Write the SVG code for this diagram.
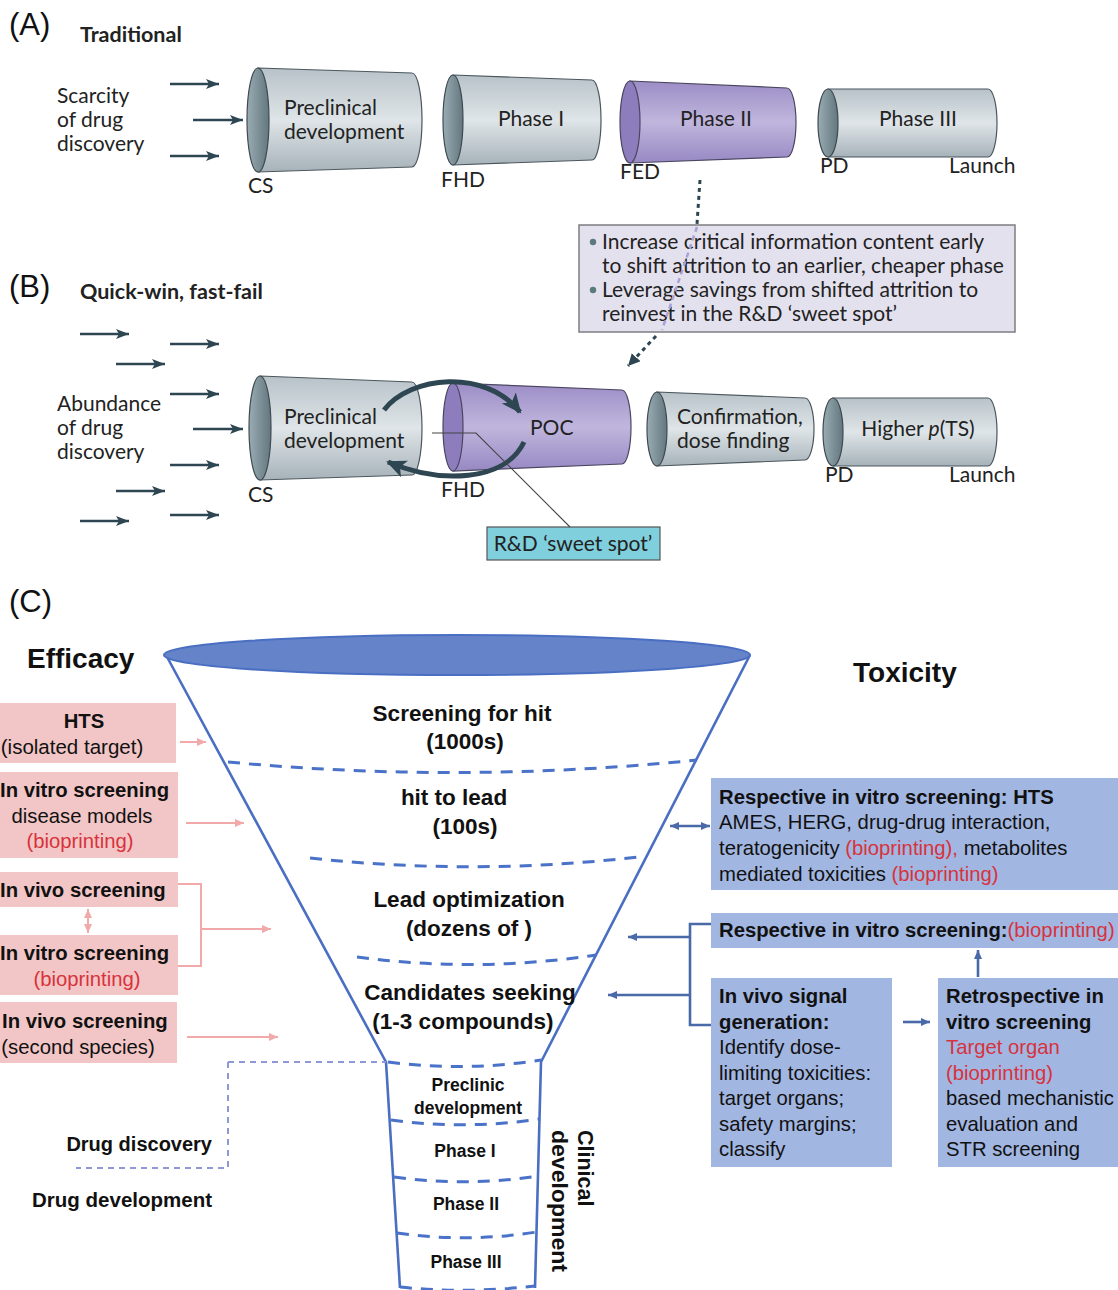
<svg xmlns="http://www.w3.org/2000/svg" width="1118" height="1290" viewBox="0 0 1118 1290">
<defs>
<style>
.hum{font-family:Lato,"Open Sans","Noto Sans",sans-serif;fill:#222;}
.lbl{font-size:31px;font-family:"Liberation Sans",Arial,sans-serif;fill:#111;}
.ttl{font-size:21.5px;font-weight:bold;}
.cyl{font-size:21px;}
.c{font-family:"Liberation Sans",Arial,sans-serif;fill:#111;}
.b{font-weight:bold;}
.red{fill:#d8323c;}
.ft{font-size:22.5px;font-weight:bold;}
.tt{font-size:17.5px;font-weight:bold;}
.tx{font-size:20.3px;}
.ef{font-size:20.3px;}
.gray{fill:url(#gGray);stroke:#4b575d;stroke-width:1.2;}
.grayE{fill:url(#gGrayE);stroke:#3f4a50;stroke-width:1.2;}
.purp{fill:url(#gPurp);stroke:#4b4660;stroke-width:1.2;}
.purpE{fill:#8d7dbd;stroke:#4b4660;stroke-width:1.2;}
.darr{stroke:#2e4652;stroke-width:2.6;fill:none;}
.parr{stroke:#f1a9a9;stroke-width:2;fill:none;}
.barr{stroke:#4a69a8;stroke-width:2.6;fill:none;}
.fun{stroke:#4a6fc2;stroke-width:2.6;fill:none;}
.dash{stroke:#4a72c8;stroke-width:3;fill:none;stroke-dasharray:12 9;}
.pink{fill:#f2c6c6;}
.blue{fill:#a2b6e2;}
</style>
<linearGradient id="gGray" x1="0" y1="0" x2="0" y2="1">
<stop offset="0" stop-color="#b7c2c8"/><stop offset="0.5" stop-color="#dfe5e8"/><stop offset="1" stop-color="#a6b2b9"/>
</linearGradient>
<linearGradient id="gGrayE" x1="0" y1="0" x2="1" y2="0">
<stop offset="0" stop-color="#9aabb3"/><stop offset="1" stop-color="#62777f"/>
</linearGradient>
<linearGradient id="gPurp" x1="0" y1="0" x2="0" y2="1">
<stop offset="0" stop-color="#9c8dc6"/><stop offset="0.5" stop-color="#c0b6dd"/><stop offset="1" stop-color="#9788c3"/>
</linearGradient>
<marker id="mD" markerUnits="userSpaceOnUse" markerWidth="14" markerHeight="12" refX="13" refY="6" orient="auto">
<path d="M0,1 L13,6 L0,11 L3,6 Z" fill="#2e4652"/>
</marker>
<marker id="mC" markerUnits="userSpaceOnUse" markerWidth="22" markerHeight="20" refX="18" refY="10" orient="auto">
<path d="M0,1 L20,10 L0,19 L5,10 Z" fill="#2e4652"/>
</marker>
<marker id="mP" markerUnits="userSpaceOnUse" markerWidth="10" markerHeight="10" refX="9" refY="5" orient="auto-start-reverse">
<path d="M0,1 L9,5 L0,9 Z" fill="#f1a9a9"/>
</marker>
<marker id="mB" markerUnits="userSpaceOnUse" markerWidth="10" markerHeight="10" refX="9" refY="5" orient="auto-start-reverse">
<path d="M0,1 L9,5 L0,9 Z" fill="#4a69a8"/>
</marker>
<marker id="mK" markerUnits="userSpaceOnUse" markerWidth="14" markerHeight="12" refX="12" refY="6" orient="auto">
<path d="M0,0 L12,6 L0,12 Z" fill="#2e4652"/>
</marker>
</defs>
<rect width="1118" height="1290" fill="#ffffff"/>

<!-- Panel A -->
<text class="lbl" x="9" y="35">(A)</text>
<text class="hum ttl" x="80" y="42">Traditional</text>
<g id="A-source">
<text class="hum cyl" x="57" y="103">Scarcity</text>
<text class="hum cyl" x="57" y="127">of drug</text>
<text class="hum cyl" x="57" y="151">discovery</text>
</g>
<g id="A-preclinical">
<path class="gray" d="M258,68 L412,73 A10,47 0 0 1 412,167 L258,172 Z"/>
<ellipse class="grayE" cx="258" cy="120" rx="11" ry="52"/>
<text class="hum cyl" x="284" y="115">Preclinical</text>
<text class="hum cyl" x="284" y="139">development</text>
<text class="hum cyl" x="248" y="193">CS</text>
</g>
<g id="A-phase1">
<path class="gray" d="M453,75 L592,80 A9,40 0 0 1 592,160 L453,165 Z"/>
<ellipse class="grayE" cx="453" cy="120" rx="10" ry="45"/>
<text class="hum cyl" x="531" y="126" text-anchor="middle">Phase I</text>
<text class="hum cyl" x="441" y="187">FHD</text>
</g>
<g id="A-phase2">
<path class="purp" d="M630,81 L787,88 A9,34.5 0 0 1 787,157 L630,163 Z"/>
<ellipse class="purpE" cx="630" cy="122" rx="10" ry="41"/>
<text class="hum cyl" x="716" y="126" text-anchor="middle">Phase II</text>
<text class="hum cyl" x="620" y="179">FED</text>
</g>
<g id="A-phase3">
<path class="gray" d="M828,89 L988,89 A9,34 0 0 1 988,157 L828,157 Z"/>
<ellipse class="grayE" cx="828" cy="123" rx="10" ry="34"/>
<text class="hum cyl" x="918" y="126" text-anchor="middle">Phase III</text>
<text class="hum cyl" x="820" y="173">PD</text>
<text class="hum cyl" x="949" y="173">Launch</text>
</g>

<!-- Callout -->
<g id="callout">
<rect x="579" y="225" width="436" height="107" fill="#e4e1ef" stroke="#7d7d80" stroke-width="1.5"/>
<circle cx="593" cy="242" r="3.2" fill="#5b7a7e"/>
<circle cx="593" cy="290" r="3.2" fill="#5b7a7e"/>
<text class="hum cyl" x="602" y="249">Increase critical information content early</text>
<text class="hum cyl" x="602" y="273">to shift attrition to an earlier, cheaper phase</text>
<text class="hum cyl" x="602" y="297">Leverage savings from shifted attrition to</text>
<text class="hum cyl" x="602" y="321">reinvest in the R&amp;D ‘sweet spot’</text>
</g>

<!-- Panel B -->
<text class="lbl" x="9" y="297">(B)</text>
<text class="hum ttl" x="80" y="299">Quick-win, fast-fail</text>
<g id="B-source">
<text class="hum cyl" x="57" y="411">Abundance</text>
<text class="hum cyl" x="57" y="435">of drug</text>
<text class="hum cyl" x="57" y="459">discovery</text>
</g>
<g id="B-preclinical">
<path class="gray" d="M260,376 L412,382 A10,46.5 0 0 1 412,475 L260,480 Z"/>
<ellipse class="grayE" cx="260" cy="428" rx="11" ry="52"/>
<text class="hum cyl" x="284" y="424">Preclinical</text>
<text class="hum cyl" x="284" y="448">development</text>
<text class="hum cyl" x="248" y="502">CS</text>
</g>
<g id="B-poc">
<path class="purp" d="M453,383 L622,390 A9,37 0 0 1 622,464 L453,471 Z"/>
<ellipse class="purpE" cx="453" cy="427" rx="10" ry="44"/>
<text class="hum cyl" x="530" y="435">POC</text>
<text class="hum cyl" x="441" y="497">FHD</text>
</g>
<g id="B-confirm">
<path class="gray" d="M657,392 L805,398 A9,31 0 0 1 805,460 L657,466 Z"/>
<ellipse class="grayE" cx="657" cy="429" rx="10" ry="37"/>
<text class="hum cyl" x="677" y="424">Confirmation,</text>
<text class="hum cyl" x="677" y="448">dose finding</text>
</g>
<g id="B-higher">
<path class="gray" d="M833,398 L988,398 A9,34 0 0 1 988,466 L833,466 Z"/>
<ellipse class="grayE" cx="833" cy="432" rx="10" ry="34"/>
<text class="hum cyl" x="918" y="436" text-anchor="middle">Higher <tspan font-style="italic">p</tspan>(TS)</text>
<text class="hum cyl" x="825" y="482">PD</text>
<text class="hum cyl" x="949" y="482">Launch</text>
</g>
<g id="sweetspot">
<rect x="487" y="527" width="173" height="33" fill="#7fcfdc" stroke="#555" stroke-width="1.2"/>
<text class="hum cyl" x="573" y="551" text-anchor="middle">R&amp;D ‘sweet spot’</text>
</g>

<!-- Panel C labels -->
<text class="lbl" x="9" y="612">(C)</text>
<text class="c b" x="27" y="668" font-size="28">Efficacy</text>
<text class="c b" x="853" y="682" font-size="28">Toxicity</text>

<!-- Funnel -->
<g id="funnel">
<path class="fun" d="M166,655 L386,1062 L400,1288"/>
<path class="fun" d="M750,655 L541,1062 L535,1288"/>
<ellipse cx="457" cy="655" rx="293" ry="20" fill="#6583c9" stroke="#4a6fc2" stroke-width="2"/>
<path class="dash" d="M228,762 Q462,784 697,760"/>
<path class="dash" d="M310,858 Q474,876 638,857"/>
<path class="dash" d="M357,957 Q477,973 596,955"/>
<path class="dash" d="M388,1062 Q465,1072 541,1060"/>
<path class="dash" d="M391,1120 Q465,1130 540,1119"/>
<path class="dash" d="M394,1177 Q465,1187 538,1176"/>
<path class="dash" d="M397,1233 Q465,1243 537,1232"/>
<path class="dash" d="M400,1287 Q465,1294 535,1286"/>
<text class="c ft" x="462" y="721" text-anchor="middle">Screening for hit</text>
<text class="c ft" x="465" y="749" text-anchor="middle">(1000s)</text>
<text class="c ft" x="454" y="805" text-anchor="middle">hit to lead</text>
<text class="c ft" x="465" y="834" text-anchor="middle">(100s)</text>
<text class="c ft" x="469" y="907" text-anchor="middle">Lead optimization</text>
<text class="c ft" x="469" y="936" text-anchor="middle">(dozens of )</text>
<text class="c ft" x="470" y="1000" text-anchor="middle">Candidates seeking</text>
<text class="c ft" x="463" y="1029" text-anchor="middle">(1-3 compounds)</text>
<text class="c tt" x="468" y="1091" text-anchor="middle">Preclinic</text>
<text class="c tt" x="468" y="1114" text-anchor="middle">development</text>
<text class="c tt" x="465" y="1157" text-anchor="middle">Phase  I</text>
<text class="c tt" x="466" y="1210" text-anchor="middle">Phase  II</text>
<text class="c tt" x="466" y="1268" text-anchor="middle">Phase  III</text>
<g transform="translate(578,1130) rotate(90)">
<text class="c b" x="0" y="0" font-size="21.5">Clinical</text>
<text class="c" x="0" y="26" font-size="22" font-weight="600" textLength="142" lengthAdjust="spacingAndGlyphs">development</text>
</g>
</g>
<g id="drug-labels">
<text class="c b" x="212" y="1151" font-size="20" text-anchor="end">Drug discovery</text>
<text class="c b" x="212" y="1207" font-size="20.5" text-anchor="end">Drug development</text>
</g>

<!-- Efficacy boxes -->
<g id="eff-hts">
<rect class="pink" x="0" y="703" width="176" height="60"/>
<text class="c b ef" x="84" y="728" text-anchor="middle">HTS</text>
<text class="c" x="72" y="754" font-size="20.5" text-anchor="middle">(isolated target)</text>
</g>
<g id="eff-invitro1">
<rect class="pink" x="0" y="772" width="178" height="86"/>
<text class="c b ef" x="0" y="797">In vitro screening</text>
<text class="c" x="82" y="823" font-size="20.3" text-anchor="middle" fill="#333">disease models</text>
<text class="c red" x="80" y="848" font-size="20.3" text-anchor="middle">(bioprinting)</text>
</g>
<g id="eff-invivo1">
<rect class="pink" x="0" y="872" width="178" height="35"/>
<text class="c b ef" x="0" y="897">In vivo screening</text>
</g>
<g id="eff-invitro2">
<rect class="pink" x="0" y="935" width="178" height="60"/>
<text class="c b ef" x="0" y="960">In vitro screening</text>
<text class="c red" x="87" y="986" font-size="20.3" text-anchor="middle">(bioprinting)</text>
</g>
<g id="eff-invivo2">
<rect class="pink" x="0" y="1002" width="177" height="61"/>
<text class="c b ef" x="2" y="1028">In vivo screening</text>
<text class="c" x="78" y="1054" font-size="20.3" text-anchor="middle">(second species)</text>
</g>

<!-- Toxicity boxes -->
<g id="tox-hts">
<rect class="blue" x="711" y="778" width="407" height="112"/>
<text class="c b tx" x="719" y="804">Respective in vitro screening: HTS</text>
<text class="c tx" x="719" y="829">AMES, HERG, drug-drug interaction,</text>
<text class="c tx" x="719" y="855">teratogenicity <tspan class="red">(bioprinting),</tspan> metabolites</text>
<text class="c tx" x="719" y="881">mediated toxicities <tspan class="red">(bioprinting)</tspan></text>
</g>
<g id="tox-respective">
<rect class="blue" x="711" y="913" width="407" height="35"/>
<text class="c tx" x="719" y="937"><tspan font-weight="bold">Respective in vitro screening:</tspan><tspan class="red">(bioprinting)</tspan></text>
</g>
<g id="tox-invivo">
<rect class="blue" x="711" y="978" width="181" height="189"/>
<text class="c b tx" x="719" y="1003">In vivo signal</text>
<text class="c b tx" x="719" y="1029">generation:</text>
<text class="c tx" x="719" y="1054">Identify dose-</text>
<text class="c tx" x="719" y="1080">limiting toxicities:</text>
<text class="c tx" x="719" y="1105">target organs;</text>
<text class="c tx" x="719" y="1131">safety margins;</text>
<text class="c tx" x="719" y="1156">classify</text>
</g>
<g id="tox-retro">
<rect class="blue" x="938" y="978" width="180" height="189"/>
<text class="c b tx" x="946" y="1003">Retrospective in</text>
<text class="c b tx" x="946" y="1029">vitro screening</text>
<text class="c red tx" x="946" y="1054">Target organ</text>
<text class="c red tx" x="946" y="1080">(bioprinting)</text>
<text class="c tx" x="946" y="1105">based mechanistic</text>
<text class="c tx" x="946" y="1131">evaluation and</text>
<text class="c tx" x="946" y="1156">STR screening</text>
</g>

<!-- Connectors -->
<g id="connectors">
<line class="darr" x1="170" y1="84" x2="219" y2="84" marker-end="url(#mD)"/>
<line class="darr" x1="193" y1="120" x2="243" y2="120" marker-end="url(#mD)"/>
<line class="darr" x1="170" y1="156" x2="219" y2="156" marker-end="url(#mD)"/>

<line class="darr" x1="80" y1="334" x2="129" y2="334" marker-end="url(#mD)"/>
<line class="darr" x1="170" y1="344" x2="219" y2="344" marker-end="url(#mD)"/>
<line class="darr" x1="116" y1="364" x2="165" y2="364" marker-end="url(#mD)"/>
<line class="darr" x1="170" y1="394" x2="219" y2="394" marker-end="url(#mD)"/>
<line class="darr" x1="193" y1="429" x2="243" y2="429" marker-end="url(#mD)"/>
<line class="darr" x1="170" y1="465" x2="219" y2="465" marker-end="url(#mD)"/>
<line class="darr" x1="116" y1="491" x2="165" y2="491" marker-end="url(#mD)"/>
<line class="darr" x1="170" y1="515" x2="219" y2="515" marker-end="url(#mD)"/>
<line class="darr" x1="80" y1="521" x2="129" y2="521" marker-end="url(#mD)"/>

<path d="M384,410 C410,376 485,368 520,412" stroke="#2e4652" stroke-width="5" fill="none" marker-end="url(#mC)"/>
<path d="M524,442 C505,482 440,484 388,462" stroke="#2e4652" stroke-width="5" fill="none" marker-end="url(#mC)"/>

<path d="M432,433 L476,433 L570,527" stroke="#444" stroke-width="1.1" fill="none"/>

<path d="M700,180 L697,224" stroke="#2e4652" stroke-width="3" stroke-dasharray="4 4" fill="none"/>
<path d="M697,227 L662,330" stroke="#aaa2d6" stroke-width="2.5" stroke-dasharray="5 4" fill="none"/>
<path d="M656,336 L628,366" stroke="#2e4652" stroke-width="3" stroke-dasharray="4 4" fill="none" marker-end="url(#mK)"/>

<line class="parr" x1="180" y1="742" x2="206" y2="742" marker-end="url(#mP)"/>
<line class="parr" x1="186" y1="823" x2="244" y2="823" marker-end="url(#mP)"/>
<line class="parr" x1="88" y1="909" x2="88" y2="933" marker-start="url(#mP)" marker-end="url(#mP)" stroke-width="3"/>
<path class="parr" d="M178,884 L201,884 L201,966 L178,966"/>
<line class="parr" x1="201" y1="929" x2="271" y2="929" marker-end="url(#mP)"/>
<line class="parr" x1="187" y1="1037" x2="278" y2="1037" marker-end="url(#mP)"/>

<path d="M228,1062 L386,1062 M228,1062 L228,1168 L76,1168" stroke="#8e98d6" stroke-width="2" stroke-dasharray="6 5" fill="none"/>

<line class="barr" x1="670" y1="826" x2="710" y2="826" marker-start="url(#mB)" marker-end="url(#mB)"/>
<path class="barr" d="M711,924 L690,924 L690,1025 L711,1025"/>
<line class="barr" x1="690" y1="937" x2="628" y2="937" marker-end="url(#mB)"/>
<line class="barr" x1="690" y1="995" x2="608" y2="995" marker-end="url(#mB)"/>
<line class="barr" x1="903" y1="1022" x2="930" y2="1022" marker-end="url(#mB)"/>
<line class="barr" x1="978" y1="977" x2="978" y2="950" marker-end="url(#mB)"/>
</g>
</svg>
